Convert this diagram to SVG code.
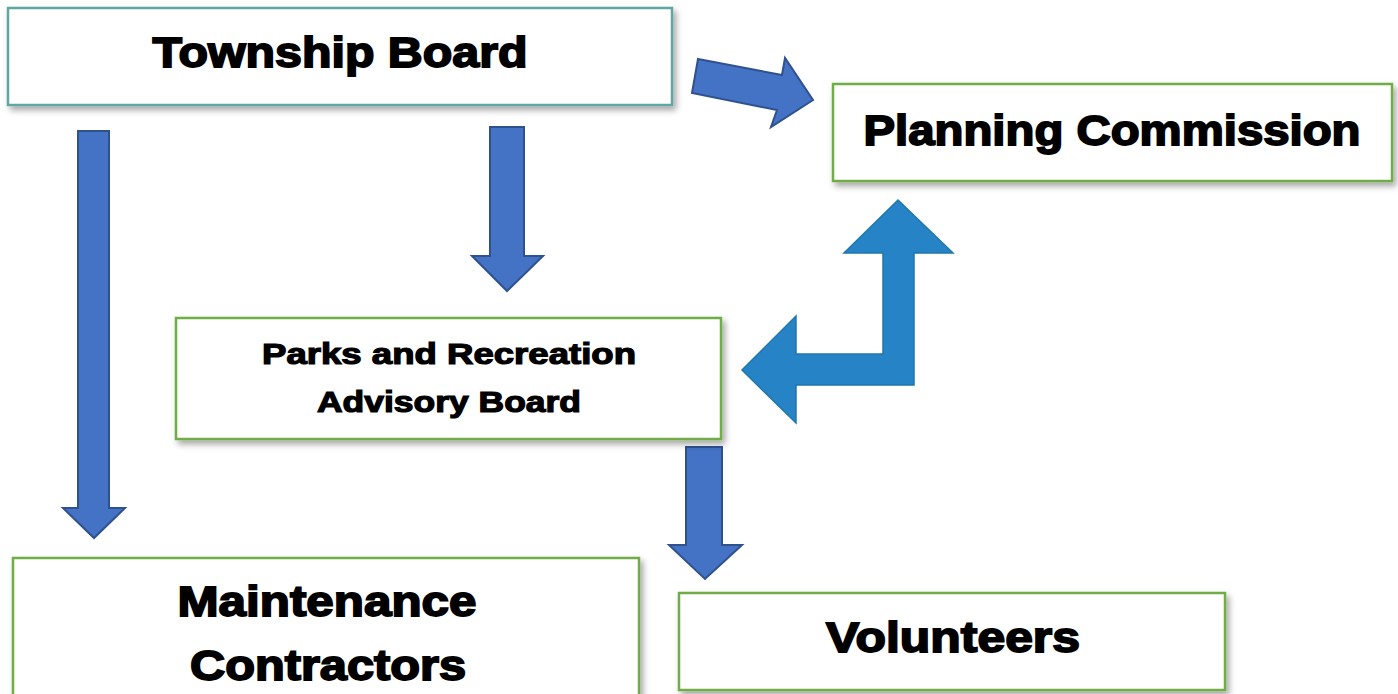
<svg xmlns="http://www.w3.org/2000/svg" width="1398" height="694" viewBox="0 0 1398 694">
<style>
.box{fill:#fff;stroke:#70ad47;stroke-width:2.5;filter:url(#sh)}
.teal{stroke:#62a6a3}
.t{font-family:"Liberation Sans",Arial,sans-serif;font-weight:bold;fill:#000;stroke:#000;stroke-width:1.8;text-anchor:middle}
.big{font-size:43px}
.small{font-size:29px;stroke-width:1.2}
.arr{fill:#4472c4;stroke:#2f528f;stroke-width:2}
.arr2{fill:#2683c6;stroke:#1f77ae;stroke-width:1.5}
</style>
<defs>
<filter id="sh" x="-5%" y="-10%" width="115%" height="130%">
<feDropShadow dx="3" dy="4" stdDeviation="3" flood-color="#000" flood-opacity="0.35"/>
</filter>
</defs>
<rect width="1398" height="694" fill="#fff"/>
<g id="connectors">
<polygon class="arr" points="698,59 782,75 785,58 813,100 771,127 777,110 692,93"/>
<polygon class="arr" points="78,131 109,131 109,508 125,508 94,538 63,508 78,508"/>
<polygon class="arr" points="490,127 524,127 524,256 543,256 507,291 472,256 490,256"/>
<polygon class="arr" points="686,447 722,447 722,545 742,545 705,579 669,545 686,545"/>
<polygon class="arr2" points="898,200 953,253 914,253 914,385 796,385 796,423 742,370 796,316 796,354 883,354 883,253 844,253"/>
</g>
<g id="township-board">
<rect class="box teal" x="8" y="8" width="664" height="97"/>
<text class="t big" x="340" y="67" textLength="375" lengthAdjust="spacingAndGlyphs">Township Board</text>
</g>
<g id="planning-commission">
<rect class="box" x="833" y="84" width="559" height="97"/>
<text class="t big" x="1112" y="145" textLength="497" lengthAdjust="spacingAndGlyphs">Planning Commission</text>
</g>
<g id="parks-board">
<rect class="box" x="176" y="318" width="545" height="121"/>
<text class="t small" x="449" y="364" textLength="374" lengthAdjust="spacingAndGlyphs">Parks and Recreation</text>
<text class="t small" x="449" y="412" textLength="264" lengthAdjust="spacingAndGlyphs">Advisory Board</text>
</g>
<g id="maintenance-contractors">
<rect class="box" x="13" y="558" width="626" height="150"/>
<text class="t big" x="327" y="616" textLength="299" lengthAdjust="spacingAndGlyphs">Maintenance</text>
<text class="t big" x="328" y="680" textLength="276" lengthAdjust="spacingAndGlyphs">Contractors</text>
</g>
<g id="volunteers">
<rect class="box" x="679" y="593" width="546" height="97"/>
<text class="t big" x="953" y="652" textLength="254" lengthAdjust="spacingAndGlyphs">Volunteers</text>
</g>
</svg>
